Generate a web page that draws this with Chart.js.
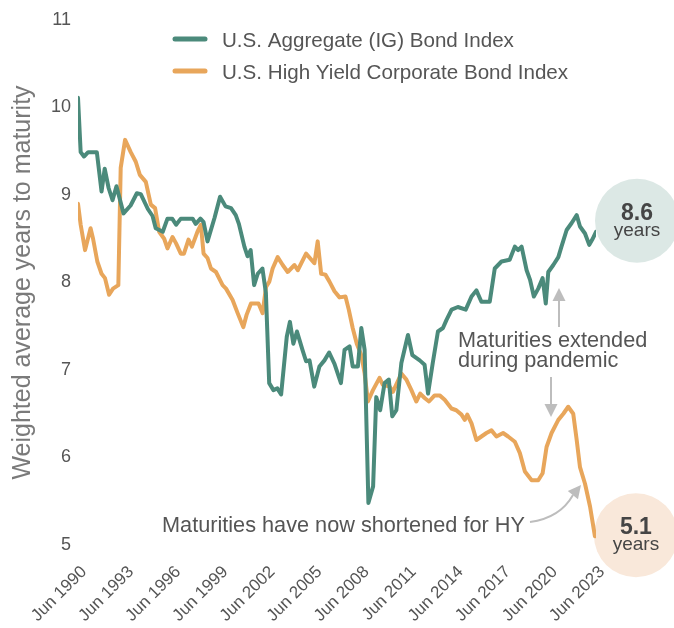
<!DOCTYPE html>
<html><head><meta charset="utf-8">
<script src="https://cdn.jsdelivr.net/npm/chart.js@4"></script>
<style>html,body{margin:0;padding:0;background:#fff}canvas{display:block}</style>
</head><body>
<canvas id="c" width="674" height="628"></canvas>
<script>
// ---------- data ----------
const seriesNames = ['U.S. Aggregate (IG) Bond Index', 'U.S. High Yield Corporate Bond Index'];

const igDates = [1990.5,1990.67,1990.88,1991.15,1991.7,1992.0,1992.2,1992.45,1992.7,1992.95,1993.4,1993.85,1994.25,1994.5,1994.95,1995.25,1995.45,1995.9,1996.2,1996.5,1996.75,1997.05,1997.8,1998.0,1998.3,1998.5,1998.75,1999.2,1999.55,1999.9,2000.25,2000.55,2000.75,2001.1,2001.3,2001.5,2001.72,2001.95,2002.25,2002.47,2002.68,2002.95,2003.2,2003.44,2003.8,2004.0,2004.22,2004.45,2004.8,2005.03,2005.25,2005.55,2005.88,2006.2,2006.5,2006.84,2007.25,2007.48,2007.8,2008.0,2008.33,2008.55,2008.76,2009.0,2009.3,2009.5,2009.75,2010.03,2010.3,2010.52,2010.78,2011.1,2011.52,2011.8,2012.27,2012.58,2012.8,2013.1,2013.43,2013.75,2013.97,2014.3,2014.7,2015.2,2015.57,2015.88,2016.2,2016.73,2017.05,2017.48,2018.0,2018.33,2018.54,2018.76,2019.08,2019.3,2019.54,2019.82,2020.1,2020.3,2020.46,2020.78,2021.1,2021.3,2021.63,2021.95,2022.27,2022.48,2022.8,2023.07,2023.29,2023.5];
const igValues = [10.11,9.49,9.44,9.49,9.49,9.04,9.30,9.08,8.94,9.10,8.79,8.88,9.02,9.01,8.84,8.76,8.62,8.58,8.73,8.73,8.66,8.73,8.73,8.67,8.73,8.69,8.47,8.74,8.98,8.87,8.85,8.77,8.67,8.41,8.30,8.37,7.97,8.10,8.16,7.88,6.85,6.77,6.79,6.72,7.38,7.55,7.30,7.44,7.23,7.10,7.11,6.81,7.04,7.11,7.20,7.07,6.85,7.23,7.27,7.04,7.04,7.48,7.23,5.48,5.67,6.69,6.54,6.85,6.89,6.47,6.54,7.08,7.40,7.17,7.11,7.06,6.73,7.08,7.44,7.48,7.57,7.69,7.72,7.69,7.84,7.91,7.78,7.78,8.16,8.24,8.26,8.41,8.37,8.41,8.14,8.03,7.84,7.93,8.05,7.76,8.12,8.20,8.29,8.41,8.60,8.68,8.77,8.64,8.56,8.43,8.50,8.58];

const hyDates = [1990.5,1990.67,1990.95,1991.3,1991.46,1991.73,1992.0,1992.22,1992.48,1992.73,1993.07,1993.22,1993.5,1993.86,1994.18,1994.44,1994.82,1995.14,1995.41,1995.67,1995.99,1996.2,1996.52,1996.74,1997.05,1997.25,1997.54,1997.76,1998.11,1998.33,1998.5,1998.75,1998.97,1999.29,1999.71,1999.93,2000.35,2000.67,2001.03,2001.24,2001.52,2002.0,2002.26,2002.48,2002.69,2002.9,2003.22,2003.54,2003.86,2004.29,2004.5,2005.03,2005.56,2005.77,2005.99,2006.26,2006.52,2006.84,2007.16,2007.54,2007.75,2008.0,2008.26,2008.55,2008.76,2008.97,2009.29,2009.71,2009.92,2010.35,2010.56,2011.1,2011.42,2011.74,2012.05,2012.3,2012.58,2012.86,2013.22,2013.54,2013.86,2014.29,2014.6,2014.93,2015.14,2015.3,2015.57,2015.88,2016.2,2016.52,2016.84,2017.16,2017.58,2017.9,2018.33,2018.65,2018.97,2019.4,2019.82,2020.1,2020.35,2020.67,2021.1,2021.42,2021.73,2022.05,2022.27,2022.48,2022.8,2023.12,2023.43];
const hyValues = [8.90,8.66,8.37,8.62,8.50,8.24,8.10,8.05,7.86,7.93,7.97,9.31,9.63,9.49,9.38,9.23,9.15,8.89,8.85,8.58,8.50,8.39,8.52,8.45,8.33,8.33,8.49,8.41,8.58,8.66,8.33,8.28,8.16,8.12,7.97,7.93,7.80,7.65,7.49,7.63,7.76,7.76,7.65,7.95,8.01,8.16,8.29,8.20,8.12,8.20,8.14,8.33,8.22,8.47,8.10,8.09,8.01,7.90,7.83,7.84,7.69,7.48,7.30,7.17,6.96,6.64,6.77,6.91,6.83,6.81,6.75,6.96,6.89,6.77,6.64,6.73,6.68,6.64,6.71,6.71,6.66,6.56,6.54,6.49,6.43,6.49,6.39,6.20,6.24,6.28,6.31,6.24,6.28,6.24,6.18,6.05,5.84,5.74,5.74,5.82,6.12,6.28,6.43,6.50,6.58,6.50,6.20,5.89,5.70,5.44,5.10];

const tickYears = [1990.5,1993.5,1996.5,1999.5,2002.5,2005.5,2008.5,2011.5,2014.5,2017.5,2020.5,2023.5];
const tickLabels = ['Jun 1990','Jun 1993','Jun 1996','Jun 1999','Jun 2002','Jun 2005','Jun 2008','Jun 2011','Jun 2014','Jun 2017','Jun 2020','Jun 2023'];
const yTickValues = [5,6,7,8,9,10,11];
const yTitle = 'Weighted average years to maturity';
const endLabels = ['8.6','5.1'];
const endUnit = 'years';
const noteExtended = ['Maturities extended','during pandemic'];
const noteShortened = 'Maturities have now shortened for HY';

// ---------- styles ----------
const FONT = "'Liberation Sans', Arial, sans-serif";
const GREEN = '#4b8a7b', ORANGE = '#e8a65b';
const GREEN_BG = '#dce8e5', ORANGE_BG = '#f9e8da';
const TEXT = '#555555', ARROW = '#bdbdbd';

const toPts = (xs, ys) => xs.map((x, i) => ({x, y: ys[i]}));

const annot = {
  id: 'annot',
  beforeDatasetsDraw(chart) {
    const ctx = chart.ctx, xs = chart.scales.x, ys = chart.scales.y;
    const bgs = [GREEN_BG, ORANGE_BG], dys = [-11, -1];
    chart.data.datasets.forEach((ds, i) => {
      const last = ds.data[ds.data.length - 1];
      const cx = xs.getPixelForValue(last.x) + 41, cy = ys.getPixelForValue(last.y) + dys[i];
      ctx.save();
      ctx.beginPath(); ctx.arc(cx, cy, 42, 0, Math.PI * 2);
      ctx.fillStyle = bgs[i]; ctx.fill();
      ctx.restore();
    });
  },
  afterDraw(chart) {
    const ctx = chart.ctx, xs = chart.scales.x, ys = chart.scales.y;
    const dys = [-11, -1];
    ctx.save();
    // legend
    const legY = [39, 71];
    chart.data.datasets.forEach((ds, i) => {
      ctx.strokeStyle = ds.borderColor; ctx.lineWidth = 5; ctx.lineCap = 'round';
      ctx.beginPath(); ctx.moveTo(175, legY[i]); ctx.lineTo(205, legY[i]); ctx.stroke();
      ctx.fillStyle = TEXT; ctx.font = '20.6px ' + FONT; ctx.textBaseline = 'alphabetic'; ctx.textAlign = 'left';
      ctx.fillText(ds.label, 222, legY[i] + 8);
    });
    // end badges text
    chart.data.datasets.forEach((ds, i) => {
      const last = ds.data[ds.data.length - 1];
      const cx = xs.getPixelForValue(last.x) + 41, cy = ys.getPixelForValue(last.y) + dys[i];
      ctx.fillStyle = '#454545'; ctx.textAlign = 'center'; ctx.textBaseline = 'alphabetic';
      ctx.font = 'bold 23px ' + FONT; ctx.fillText(endLabels[i], cx, cy - 1);
      ctx.font = '19px ' + FONT; ctx.fillText(endUnit, cx, cy + 15);
    });
    // notes
    ctx.fillStyle = TEXT; ctx.textAlign = 'left'; ctx.textBaseline = 'alphabetic';
    ctx.font = '21.7px ' + FONT;
    ctx.fillText(noteExtended[0], 458, 347);
    ctx.fillText(noteExtended[1], 458, 367);
    ctx.fillText(noteShortened, 162, 532);
    // arrows
    ctx.strokeStyle = ARROW; ctx.fillStyle = ARROW; ctx.lineWidth = 2; ctx.lineCap = 'butt';
    // up arrow
    ctx.beginPath(); ctx.moveTo(559, 327); ctx.lineTo(559, 299); ctx.stroke();
    ctx.beginPath(); ctx.moveTo(559, 288); ctx.lineTo(565.5, 301); ctx.lineTo(552.5, 301); ctx.closePath(); ctx.fill();
    // down arrow
    ctx.beginPath(); ctx.moveTo(551, 377); ctx.lineTo(551, 406); ctx.stroke();
    ctx.beginPath(); ctx.moveTo(551, 417); ctx.lineTo(557.5, 404); ctx.lineTo(544.5, 404); ctx.closePath(); ctx.fill();
    // curved arrow
    ctx.beginPath(); ctx.moveTo(530, 522); ctx.quadraticCurveTo(560, 518, 573, 495); ctx.stroke();
    ctx.save(); ctx.translate(581, 485); ctx.rotate(Math.atan2(-10, 8));
    ctx.beginPath(); ctx.moveTo(0, 0); ctx.lineTo(-13, -6.5); ctx.lineTo(-13, 6.5); ctx.closePath(); ctx.fill();
    ctx.restore();
    ctx.restore();
  }
};

new Chart(document.getElementById('c'), {
  type: 'line',
  data: {
    datasets: [
      {label: seriesNames[0], data: toPts(igDates, igValues), borderColor: GREEN, borderWidth: 4, pointRadius: 0, tension: 0, borderJoinStyle: 'round', borderCapStyle: 'round', fill: false},
      {label: seriesNames[1], data: toPts(hyDates, hyValues), borderColor: ORANGE, borderWidth: 4, pointRadius: 0, tension: 0, borderJoinStyle: 'round', borderCapStyle: 'round', fill: false}
    ]
  },
  options: {
    responsive: false, animation: false, devicePixelRatio: 1,
    layout: {padding: {top: 20, right: 78, bottom: 0, left: 0}},
    plugins: {legend: {display: false}, tooltip: {enabled: false}},
    scales: {
      x: {
        type: 'linear', min: tickYears[0], max: tickYears[tickYears.length - 1],
        grid: {display: false, drawTicks: false}, border: {display: false},
        afterBuildTicks: s => { s.ticks = tickYears.map(v => ({value: v})); },
        afterFit: s => { s.height = 83; },
        ticks: {autoSkip: false, maxRotation: 45, minRotation: 45, padding: 17, labelOffset: 6, color: TEXT,
          font: {family: FONT, size: 17}, callback: (v, i) => tickLabels[i]}
      },
      y: {
        min: yTickValues[0], max: yTickValues[yTickValues.length - 1],
        grid: {display: false, drawTicks: false}, border: {display: false},
        afterBuildTicks: s => { s.ticks = yTickValues.map(v => ({value: v})); },
        afterFit: s => { s.width = 78; },
        ticks: {padding: 7, color: TEXT, font: {family: FONT, size: 18}, callback: v => String(v)},
        title: {display: true, text: yTitle, color: '#7a7a7a', font: {family: FONT, size: 25}, padding: {top: 8, bottom: 0}}
      }
    }
  },
  plugins: [annot]
});
</script>
</body></html>
